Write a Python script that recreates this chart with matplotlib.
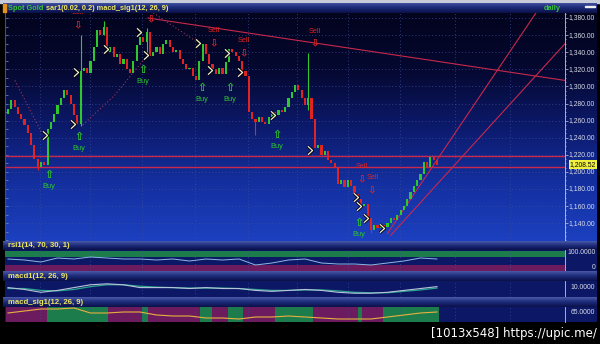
import numpy as np
import matplotlib
matplotlib.use("Agg")
import matplotlib.pyplot as plt
from matplotlib.colors import LinearSegmentedColormap
from matplotlib.patches import Rectangle

W, H = 600, 344

# ---- price data (one value per daily bar) ----
first_open = 1268
closes = [
    1274, 1284, 1276, 1268, 1262, 1255, 1246, 1232, 1215, 1206,
    1212, 1208, 1250, 1258, 1268, 1278, 1286, 1296, 1290, 1280,
    1266, 1256, 1318, 1322, 1316, 1330, 1346, 1366, 1360, 1370,
    1340, 1346, 1334, 1338, 1326, 1332, 1320, 1316, 1330, 1348,
    1358, 1352, 1364, 1336, 1340, 1346, 1338, 1350, 1354, 1346,
    1340, 1342, 1332, 1326, 1320, 1322, 1312, 1308, 1330, 1350,
    1338, 1326, 1320, 1314, 1322, 1314, 1328, 1344, 1340, 1336,
    1330, 1318, 1312, 1270, 1262, 1258, 1264, 1258, 1256, 1264,
    1270, 1266, 1272, 1270, 1276, 1286, 1294, 1302, 1296, 1286,
    1278, 1286, 1262, 1228, 1232, 1220, 1224, 1214, 1210, 1204,
    1186, 1190, 1182, 1190, 1184, 1174, 1168, 1160, 1162, 1146,
    1132, 1138, 1134, 1138, 1136, 1140, 1146, 1144, 1150, 1156,
    1160, 1168, 1176, 1184, 1190, 1198, 1212, 1206, 1218, 1214,
    1208.52,
]
wick_bars = [9, 22, 29, 42, 75, 91, 110]
wick_highs = [1212, 1360, 1376, 1368, 1262, 1339, 1146]
wick_lows = [1202, 1254, 1360, 1336, 1243, 1272, 1128]

last_price = 1208.52
support_levels = [1219, 1205.5]
down_trend = ([42.4, 168.8], [1380, 1307])
up_trend_a = ([115, 160], [1128, 1386])
up_trend_b = ([116, 168.8], [1126, 1350])

# parabolic SAR runs (bar index, price)
sar_runs = [
    ([2.1, 10.3], [1307, 1245]),
    ([22.7, 32.4, 41.5], [1255, 1290, 1333]),
    ([44.0, 57.3], [1386, 1352]),
]
# SAR flip markers
flip_idx = [11.2, 19.7, 20.6, 29.7, 39.7, 41.8, 57.6, 61.2, 66.4, 70.3,
            80.3, 91.5, 105.5, 106.4, 108.5, 113.3]
flip_price = [1243, 1256, 1317, 1344, 1364, 1337, 1351, 1319, 1339, 1317,
              1267, 1226, 1171, 1160, 1146, 1134]
buy_idx = [12.4, 21.5, 40.9, 58.8, 67.3, 81.5, 106.4]
buy_price = [1196, 1241, 1319, 1298, 1298, 1243, 1140]
sell_idx = [21.2, 43.3, 62.4, 71.5, 93.0, 107.3, 110.4]
sell_price = [1373, 1380, 1352, 1340, 1351, 1193, 1180]

# ---- indicator data (every 5th bar) ----
ind_idx = list(range(0, 131, 5))
rsi = [60, 55, 45, 65, 60, 70, 65, 60, 60, 55, 60, 50, 60, 55,
       60, 30, 40, 55, 60, 40, 35, 35, 30, 40, 50, 65, 60]
macd = [2, -2, -8, -4, 2, 8, 10, 8, 2, 2, 2, 0, 2, 0,
        0, -4, -6, -4, -2, -4, -8, -10, -10, -8, -4, 0, 4]
macd_signal = [0, 0, -4, -5, -2, 4, 8, 8, 5, 3, 2, 1, 1, 1,
               0, -2, -4, -4, -3, -3, -5, -8, -9, -9, -6, -3, 1]
macd_sig = [4, 8, 12, 12, 14, 4, 4, 6, 6, 0, -2, -2, -6, -6,
            -8, -4, -4, -2, -4, -6, -8, -8, -8, -4, 0, 4, 6]
state_edges = [-0.5, 11.8, 30.3, 40.6, 42.4, 58.2, 61.8, 66.7, 71.2,
               80.9, 92.4, 106.0, 107.3, 113.6, 130.5]
state_bull = [False, True, False, True, False, True, False, True, False,
              True, False, True, False, True]

date_grid = [9.7, 24.8, 40.6, 56.7, 72.7, 87.6, 103.0, 118.8, 135.5, 152.1]
price_ticks = list(range(1140, 1381, 20))

X0, X1 = -0.91, 168.8
Y0, Y1 = 1119.2, 1385.85

GREEN = "#2ec82e"
RED = "#e02424"
LINE_RED = "#c8284c"
GRID = "#3a4c9a"
LABEL = "#d8dce8"
FONT = ["Liberation Sans", "DejaVu Sans"]
MAIN_BG = ["#1c40c0", "#1430a0", "#0c1a6c", "#050830", "#03041e"]

fig = plt.figure(figsize=(W / 100, H / 100), dpi=100, facecolor="black")


def px_axes(x0, y0, x1, y1):
    return fig.add_axes([x0 / W, 1 - y1 / H, (x1 - x0) / W, (y1 - y0) / H])


def gradient(ax, colors):
    cmap = LinearSegmentedColormap.from_list("g", colors)
    grad = np.linspace(0, 1, 256).reshape(-1, 1)
    ax.imshow(grad, cmap=cmap, extent=[0, 1, 0, 1], transform=ax.transAxes,
              aspect="auto", origin="lower", zorder=0)


def clean(ax):
    ax.set_xticks([])
    ax.set_yticks([])
    for s in ax.spines.values():
        s.set_visible(False)


def title_bar(y0, y1, label, x0=3):
    tb = px_axes(x0, y0, 597, y1)
    gradient(tb, ["#0a1048", "#1c2a78", "#4a5aa8"])
    tb.set_xlim(0, 1)
    tb.set_ylim(0, 1)
    clean(tb)
    if label:
        tb.text(5 / 594, 0.45, label, color="#f0e860", fontsize=5.6,
                fontweight="bold", va="center", family=FONT)
    return tb


# frame strip on top
fig.patches.append(Rectangle((0, 1 - 3 / H), 1, 3 / H, transform=fig.transFigure,
                             color="#c8ccd8", zorder=-1))

# ---- main price panel ----
ax = px_axes(5, 13, 565, 241)
gradient(ax, MAIN_BG)
ax.set_xlim(X0, X1)
ax.set_ylim(Y0, Y1)
clean(ax)
ax.spines["left"].set_visible(True)
ax.spines["left"].set_color("#3a4c9a")
ax.set_yticks(price_ticks)
ax.set_yticks(range(1120, 1386, 10), minor=True)
ax.tick_params(axis="y", which="both", direction="in", colors="#8090c0",
               length=2.5, width=0.5, labelleft=False)
for p in price_ticks:
    ax.axhline(p, color=GRID, lw=0.6, ls=(0, (1, 3)), zorder=1)
for g in date_grid:
    ax.axvline(g, color=GRID, lw=0.6, ls=(0, (1, 3)), zorder=1)

opens = [first_open] + closes[:-1]
xs = np.arange(len(closes))
bottoms = [min(o, c) for o, c in zip(opens, closes)]
heights = [max(abs(c - o), 1.0) for o, c in zip(opens, closes)]
colors = [GREEN if c >= o else RED for o, c in zip(opens, closes)]
for b, hi, lo in zip(wick_bars, wick_highs, wick_lows):
    ax.vlines(b, lo, hi, color=colors[b], lw=0.8, zorder=3)
ax.bar(xs, heights, bottom=bottoms, width=0.66, color=colors, lw=0, zorder=3)

for lvl in support_levels:
    ax.axhline(lvl, color=LINE_RED, lw=1.0, zorder=2)
for line in (down_trend, up_trend_a, up_trend_b):
    ax.plot(line[0], line[1], color=LINE_RED, lw=0.8, zorder=2)
for rx, ry in sar_runs:
    ax.plot(rx, ry, color="#a03458", lw=0.8, ls=(0, (1, 2)), zorder=2)

chevron = [(-0.6, 1), (0.5, 0), (-0.6, -1)]
ax.plot(flip_idx, flip_price, ls="none", marker=chevron, ms=6,
        mfc="none", mec="black", mew=2.2, zorder=5)
ax.plot(flip_idx, flip_price, ls="none", marker=chevron, ms=6,
        mfc="none", mec="#f2f0d8", mew=0.9, zorder=6)

for i, p in zip(buy_idx, buy_price):
    ax.text(i, p, "\u21e7", color=GREEN, fontsize=8, fontweight="bold",
            ha="center", va="center", zorder=6, family="DejaVu Sans")
    ax.annotate("Buy", (i, p), xytext=(0, -8.3), textcoords="offset points",
                color=GREEN, fontsize=5.3, ha="center", va="center", zorder=6,
                family=FONT, annotation_clip=False)
for i, p in zip(sell_idx, sell_price):
    ax.text(i, p, "\u21e9", color=RED, fontsize=7.5, fontweight="bold",
            ha="center", va="center", zorder=6, family="DejaVu Sans",
            clip_on=True)
    ax.annotate("Sell", (i, p), xytext=(0, 8.3), textcoords="offset points",
                color=RED, fontsize=5.3, ha="center", va="center", zorder=6,
                family=FONT, clip_on=True)

# right price scale
axr = px_axes(565, 13, 597, 241)
gradient(axr, MAIN_BG)
axr.set_xlim(0, 1)
axr.set_ylim(Y0, Y1)
for s in ["top", "right", "bottom"]:
    axr.spines[s].set_visible(False)
axr.spines["left"].set_color("#c0c8d8")
axr.spines["left"].set_linewidth(0.6)
axr.set_xticks([])
axr.set_yticks(price_ticks)
axr.set_yticks(range(1120, 1386, 5), minor=True)
axr.tick_params(axis="y", which="both", direction="in", colors="#c0c8d8",
                length=2, width=0.5, labelleft=False)
axr.tick_params(axis="y", which="minor", length=1)
for p in price_ticks:
    axr.text(0.94, p, f"{p:,.2f}", color=LABEL, fontsize=4.9,
             ha="right", va="center", family=FONT)
axr.text(0.97, last_price, f"{last_price:,.2f}", color="black", fontsize=4.9,
         ha="right", va="center", family=FONT, zorder=5,
         bbox=dict(boxstyle="square,pad=0.15", fc="#f0f040", ec="none"))

# top title bar
tb = title_bar(3, 13, None)
t_name = tb.text(5 / 594, 0.45, "Spot Gold", color="#38c838", fontsize=5.3,
                 fontweight="bold", va="center", family=FONT)
tb.annotate("sar1(0.02, 0.2) macd_sig1(12, 26, 9)", xy=(1, 0.5),
            xycoords=t_name, xytext=(2, 0), textcoords="offset points",
            color="#f0e860", fontsize=5.3, fontweight="bold", va="center",
            family=FONT)
tb.text(558 / 594, 0.45, "daily", color="#38c838", fontsize=5.3,
        fontweight="bold", va="center", ha="right", family=FONT)
tb.add_patch(Rectangle((582 / 594, 0.55), 10 / 594, 0.18, color="#f0f0f0",
                       transform=tb.transAxes))
fig.patches.append(Rectangle((3 / W, 1 - 12 / H), 3 / W, 8 / H,
                             transform=fig.transFigure, color="#e89020"))


def lower_panel(y0, y1, ylim):
    a = px_axes(5, y0, 565, y1)
    a.set_facecolor("#0c1866")
    a.set_xlim(X0, X1)
    a.set_ylim(*ylim)
    clean(a)
    for g in date_grid:
        a.axvline(g, color=GRID, lw=0.6, ls=(0, (1, 3)), zorder=1)
    r = px_axes(565, y0, 597, y1)
    r.set_facecolor("#0c1866")
    r.set_xlim(0, 1)
    r.set_ylim(0, 1)
    clean(r)
    r.spines["left"].set_visible(True)
    r.spines["left"].set_color("#c0c8d8")
    r.spines["left"].set_linewidth(0.6)
    return a, r


# ---- RSI ----
title_bar(241, 250, "rsi1(14, 70, 30, 1)")
a_rsi, r_rsi = lower_panel(250, 271, (0, 105))
a_rsi.axhspan(70, 100, color="#1c7c4c", lw=0, zorder=0.5)
a_rsi.axhspan(0, 30, color="#6c1c5e", lw=0, zorder=0.5)
a_rsi.plot(ind_idx, rsi, color="#8cb8e4", lw=0.7, zorder=3)
r_rsi.text(0.95, 0.86, "100.0000", color=LABEL, fontsize=4.9,
           ha="right", va="center", family=FONT)
r_rsi.text(0.95, 0.19, "0", color=LABEL, fontsize=4.9,
           ha="right", va="center", family=FONT)

# ---- MACD ----
title_bar(271, 281, "macd1(12, 26, 9)")
a_macd, r_macd = lower_panel(281, 297, (-18, 16))
a_macd.plot(ind_idx, macd_signal, color="#2aa48c", lw=0.9, zorder=3)
a_macd.plot(ind_idx, macd, color="#b8c4dc", lw=0.8, zorder=4)
r_macd.text(0.95, 0.62, "10.0000", color=LABEL, fontsize=4.9,
            ha="right", va="center", family=FONT)

# ---- MACD signal state ----
title_bar(297, 307, "macd_sig1(12, 26, 9)")
a_sig, r_sig = lower_panel(307, 322, (-14, 16))
for k, bull in enumerate(state_bull):
    a_sig.axvspan(state_edges[k], state_edges[k + 1],
                  color="#1c7c4c" if bull else "#6c1c5e", lw=0, zorder=0.5)
a_sig.plot(ind_idx, macd_sig, color="#e8b040", lw=0.8, zorder=3)
r_sig.text(0.95, 0.66, "65.0000", color=LABEL, fontsize=4.9,
           ha="right", va="center", family=FONT)

fig.text(597 / W, 1 - 333 / H, "[1013x548] https://upic.me/", color="white",
         fontsize=8.5, ha="right", va="center")

fig.savefig("out.png", dpi=100, facecolor="black")
